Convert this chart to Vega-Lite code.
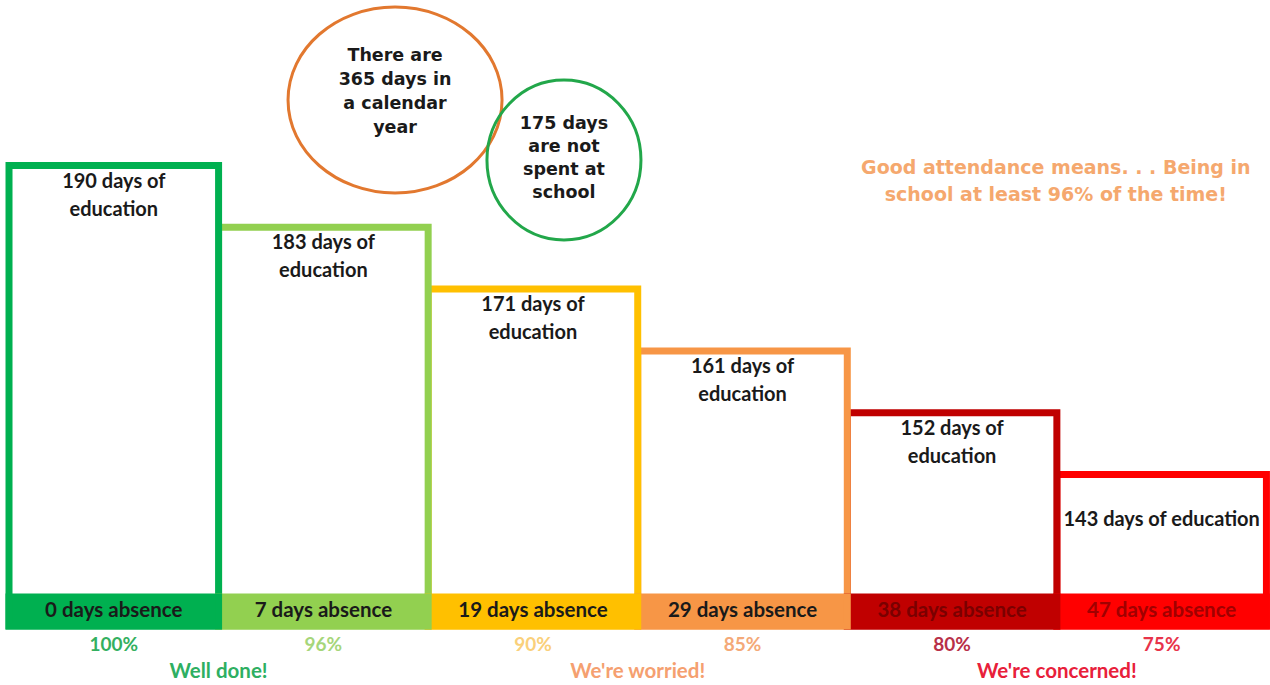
{
  "$schema": "https://vega.github.io/schema/vega-lite/v6.json",
  "width": 1270,
  "height": 685,
  "autosize": {"type": "fit", "contains": "padding"},
  "padding": 0,
  "background": "white",
  "view": {"stroke": null},
  "datasets": {
    "bars": [
      {"key": "b6", "slot": 5, "slotEnd": 6, "top": 155.5, "days": 143, "absence": 47, "pct": "75%", "edu": "143 days of education", "absenceLabel": "47 days absence"},
      {"key": "b5", "slot": 4, "slotEnd": 5, "top": 217.3, "days": 152, "absence": 38, "pct": "80%", "edu": "152 days of\neducation", "absenceLabel": "38 days absence"},
      {"key": "b4", "slot": 3, "slotEnd": 4, "top": 279.1, "days": 161, "absence": 29, "pct": "85%", "edu": "161 days of\neducation", "absenceLabel": "29 days absence"},
      {"key": "b3", "slot": 2, "slotEnd": 3, "top": 340.9, "days": 171, "absence": 19, "pct": "90%", "edu": "171 days of\neducation", "absenceLabel": "19 days absence"},
      {"key": "b2", "slot": 1, "slotEnd": 2, "top": 402.7, "days": 183, "absence": 7, "pct": "96%", "edu": "183 days of\neducation", "absenceLabel": "7 days absence"},
      {"key": "b1", "slot": 0, "slotEnd": 1, "top": 464.5, "days": 190, "absence": 0, "pct": "100%", "edu": "190 days of\neducation", "absenceLabel": "0 days absence"}
    ],
    "verdicts": [
      {"verdict": "Well done!", "x": 1.0},
      {"verdict": "We're worried!", "x": 3.0},
      {"verdict": "We're concerned!", "x": 5.0}
    ],
    "bubbles": [
      {"note": "year", "x": 1.842, "y": 530, "text": "There are\n365 days in\na calendar\nyear"},
      {"note": "offschool", "x": 2.648, "y": 470, "text": "175 days\nare not\nspent at\nschool"}
    ],
    "headline": [
      {"x": 4.995, "y": 448.5, "text": "Good attendance means. . . Being in\nschool at least 96% of the time!"}
    ]
  },
  "resolve": {"scale": {"color": "independent"}},
  "layer": [
    {
      "data": {"name": "bars"},
      "mark": {"type": "rect", "fill": "white", "strokeWidth": 7},
      "encoding": {
        "x": {"field": "slot", "type": "quantitative", "scale": {"domain": [-0.043, 6.017], "nice": false, "zero": false}, "axis": null},
        "x2": {"field": "slotEnd"},
        "y": {"field": "top", "type": "quantitative", "scale": {"domain": [-55, 630], "nice": false, "zero": false}, "axis": null},
        "y2": {"datum": 4},
        "stroke": {"field": "key", "type": "nominal", "scale": {"domain": ["b1", "b2", "b3", "b4", "b5", "b6"], "range": ["#00B050", "#92D050", "#FFC000", "#F79646", "#C00000", "#FF0000"]}, "legend": null}
      }
    },
    {
      "data": {"name": "bars"},
      "mark": {"type": "rect", "strokeWidth": 7},
      "encoding": {
        "x": {"field": "slot", "type": "quantitative", "scale": {"domain": [-0.043, 6.017], "nice": false, "zero": false}, "axis": null},
        "x2": {"field": "slotEnd"},
        "y": {"datum": 33, "type": "quantitative", "scale": {"domain": [-55, 630], "nice": false, "zero": false}, "axis": null},
        "y2": {"datum": 4},
        "stroke": {"field": "key", "type": "nominal", "scale": {"domain": ["b1", "b2", "b3", "b4", "b5", "b6"], "range": ["#00B050", "#92D050", "#FFC000", "#F79646", "#C00000", "#FF0000"]}, "legend": null},
        "fill": {"field": "key", "type": "nominal", "scale": {"domain": ["b1", "b2", "b3", "b4", "b5", "b6"], "range": ["#00B050", "#92D050", "#FFC000", "#F79646", "#C00000", "#FF0000"]}, "legend": null}
      }
    },
    {
      "data": {"name": "bars"},
      "transform": [{"filter": "datum.key != 'b6'"}],
      "mark": {"type": "text", "font": "Lato", "fontWeight": "bold", "fontSize": 20, "lineBreak": "\n", "lineHeight": 28, "baseline": "middle", "align": "center", "dx": 104.8, "dy": 16, "fill": "#1a1a1a"},
      "encoding": {
        "x": {"field": "slot", "type": "quantitative", "scale": {"domain": [-0.043, 6.017], "nice": false, "zero": false}, "axis": null},
        "y": {"field": "top", "type": "quantitative", "scale": {"domain": [-55, 630], "nice": false, "zero": false}, "axis": null},
        "text": {"field": "edu"}
      }
    },
    {
      "data": {"name": "bars"},
      "transform": [{"filter": "datum.key == 'b6'"}],
      "mark": {"type": "text", "font": "Lato", "fontWeight": "bold", "fontSize": 20, "baseline": "middle", "align": "center", "dx": 104.8, "dy": 45.5, "fill": "#1a1a1a"},
      "encoding": {
        "x": {"field": "slot", "type": "quantitative", "scale": {"domain": [-0.043, 6.017], "nice": false, "zero": false}, "axis": null},
        "y": {"field": "top", "type": "quantitative", "scale": {"domain": [-55, 630], "nice": false, "zero": false}, "axis": null},
        "text": {"field": "edu"}
      }
    },
    {
      "data": {"name": "bars"},
      "mark": {"type": "text", "font": "Lato", "fontWeight": "bold", "fontSize": 20.5, "baseline": "middle", "align": "center", "dx": 104.8},
      "encoding": {
        "x": {"field": "slot", "type": "quantitative", "scale": {"domain": [-0.043, 6.017], "nice": false, "zero": false}, "axis": null},
        "y": {"datum": 19, "type": "quantitative", "scale": {"domain": [-55, 630], "nice": false, "zero": false}, "axis": null},
        "text": {"field": "absenceLabel"},
        "color": {"condition": [{"test": "datum.key == 'b5'", "value": "#7A0000"}, {"test": "datum.key == 'b6'", "value": "#A00000"}], "value": "#1a1a1a"}
      }
    },
    {
      "data": {"name": "bars"},
      "mark": {"type": "text", "font": "Lato", "fontWeight": "bold", "fontSize": 19, "baseline": "middle", "align": "center", "dx": 104.8},
      "encoding": {
        "x": {"field": "slot", "type": "quantitative", "scale": {"domain": [-0.043, 6.017], "nice": false, "zero": false}, "axis": null},
        "y": {"datum": -15, "type": "quantitative", "scale": {"domain": [-55, 630], "nice": false, "zero": false}, "axis": null},
        "text": {"field": "pct"},
        "color": {"field": "key", "type": "nominal", "scale": {"domain": ["b1", "b2", "b3", "b4", "b5", "b6"], "range": ["#33B060", "#A6D67A", "#FAD07A", "#F4A978", "#B83048", "#E8334A"]}, "legend": null}
      }
    },
    {
      "data": {"name": "verdicts"},
      "mark": {"type": "text", "font": "Lato", "fontWeight": "bold", "fontSize": 20.5, "baseline": "middle", "align": "center"},
      "encoding": {
        "x": {"field": "x", "type": "quantitative", "scale": {"domain": [-0.043, 6.017], "nice": false, "zero": false}, "axis": null},
        "y": {"datum": -42, "type": "quantitative", "scale": {"domain": [-55, 630], "nice": false, "zero": false}, "axis": null},
        "text": {"field": "verdict"},
        "color": {"field": "verdict", "type": "nominal", "scale": {"domain": ["Well done!", "We're worried!", "We're concerned!"], "range": ["#2EAF62", "#F5A070", "#E8203A"]}, "legend": null}
      }
    },
    {
      "data": {"name": "bubbles"},
      "transform": [{"filter": "datum.note == 'year'"}],
      "mark": {"type": "point", "shape": "M -1 0 A 1 0.869 0 1 0 1 0 A 1 0.869 0 1 0 -1 0 Z", "size": 45796, "filled": false, "stroke": "#E2782F", "strokeWidth": 3, "opacity": 1},
      "encoding": {
        "x": {"field": "x", "type": "quantitative", "scale": {"domain": [-0.043, 6.017], "nice": false, "zero": false}, "axis": null},
        "y": {"field": "y", "type": "quantitative", "scale": {"domain": [-55, 630], "nice": false, "zero": false}, "axis": null}
      }
    },
    {
      "data": {"name": "bubbles"},
      "transform": [{"filter": "datum.note == 'offschool'"}],
      "mark": {"type": "point", "shape": "M -1 0 A 1 1.039 0 1 0 1 0 A 1 1.039 0 1 0 -1 0 Z", "size": 23716, "filled": false, "stroke": "#22A74A", "strokeWidth": 3, "opacity": 1},
      "encoding": {
        "x": {"field": "x", "type": "quantitative", "scale": {"domain": [-0.043, 6.017], "nice": false, "zero": false}, "axis": null},
        "y": {"field": "y", "type": "quantitative", "scale": {"domain": [-55, 630], "nice": false, "zero": false}, "axis": null}
      }
    },
    {
      "data": {"name": "bubbles"},
      "transform": [{"filter": "datum.note == 'year'"}],
      "mark": {"type": "text", "font": "DejaVu Sans", "fontWeight": "bold", "fontSize": 17.5, "lineBreak": "\n", "lineHeight": 24, "baseline": "middle", "align": "center", "dy": -44, "fill": "#1a1a1a"},
      "encoding": {
        "x": {"field": "x", "type": "quantitative", "scale": {"domain": [-0.043, 6.017], "nice": false, "zero": false}, "axis": null},
        "y": {"field": "y", "type": "quantitative", "scale": {"domain": [-55, 630], "nice": false, "zero": false}, "axis": null},
        "text": {"field": "text"}
      }
    },
    {
      "data": {"name": "bubbles"},
      "transform": [{"filter": "datum.note == 'offschool'"}],
      "mark": {"type": "text", "font": "DejaVu Sans", "fontWeight": "bold", "fontSize": 17.5, "lineBreak": "\n", "lineHeight": 23, "baseline": "middle", "align": "center", "dy": -36, "fill": "#1a1a1a"},
      "encoding": {
        "x": {"field": "x", "type": "quantitative", "scale": {"domain": [-0.043, 6.017], "nice": false, "zero": false}, "axis": null},
        "y": {"field": "y", "type": "quantitative", "scale": {"domain": [-55, 630], "nice": false, "zero": false}, "axis": null},
        "text": {"field": "text"}
      }
    },
    {
      "data": {"name": "headline"},
      "mark": {"type": "text", "font": "DejaVu Sans", "fontWeight": "bold", "fontSize": 19, "lineBreak": "\n", "lineHeight": 27, "baseline": "middle", "align": "center", "dy": -13.5, "fill": "#F5A86E"},
      "encoding": {
        "x": {"field": "x", "type": "quantitative", "scale": {"domain": [-0.043, 6.017], "nice": false, "zero": false}, "axis": null},
        "y": {"field": "y", "type": "quantitative", "scale": {"domain": [-55, 630], "nice": false, "zero": false}, "axis": null},
        "text": {"field": "text"}
      }
    }
  ]
}
